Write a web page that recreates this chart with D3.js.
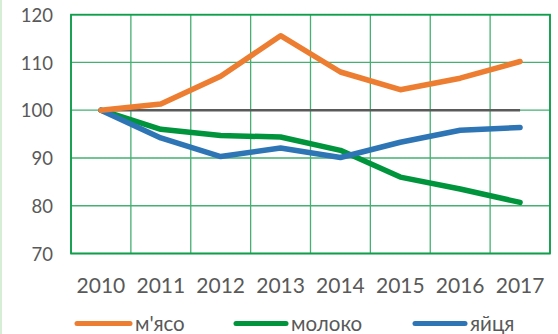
<!DOCTYPE html>
<html>
<head>
<meta charset="utf-8">
<script src="https://cdn.jsdelivr.net/npm/d3@7"></script>
<style>
  html, body { margin: 0; padding: 0; background: #fff; }
  svg { display: block; }
</style>
</head>
<body>
<svg id="chart" width="558" height="334"></svg>
<script>
// Індекси виробництва (2010 = 100)
const years = ["2010", "2011", "2012", "2013", "2014", "2015", "2016", "2017"];
const meat  = [100, 101.3, 107.1, 115.6, 108.0, 104.3, 106.7, 110.2];
const milk  = [100, 96.0, 94.7, 94.4, 91.6, 86.0, 83.5, 80.7];
const eggs  = [100, 94.2, 90.3, 92.1, 90.1, 93.3, 95.8, 96.4];
const base  = [100, 100, 100, 100, 100, 100, 100, 100];
const yTicks = [70, 80, 90, 100, 110, 120];
const seriesNames = ["м'ясо", "молоко", "яйця"];

const colors = { meat: "#ed7d31", milk: "#00953d", eggs: "#2e75b6", base: "#5a5a5a" };
const font = "Lato, 'Open Sans', sans-serif";
const textColor = "#595959";

const svg = d3.select("#chart");
const W = 558, H = 334;
const plot = { left: 71, right: 550, top: 14.7, bottom: 253.5 };

// pale left edge of the frame
svg.append("rect").attr("x", 0).attr("y", 0).attr("width", 2).attr("height", H).attr("fill", "#d6edd6");

const x = d3.scaleBand().domain(years).range([plot.left, plot.right]).padding(0);
const y = d3.scaleLinear().domain([70, 120]).range([plot.bottom, plot.top]);

// grid
const grid = svg.append("g");
grid.selectAll("line.h").data(yTicks).join("line")
  .attr("x1", plot.left).attr("x2", plot.right)
  .attr("y1", d => y(d)).attr("y2", d => y(d))
  .attr("stroke", "#45b072").attr("stroke-width", 1.3);
const bounds = years.map(d => x(d)).concat([x(years[years.length - 1]) + x.bandwidth()]);
grid.selectAll("line.v").data(bounds).join("line")
  .attr("x1", d => d).attr("x2", d => d)
  .attr("y1", plot.top).attr("y2", plot.bottom)
  .attr("stroke", "#45b072").attr("stroke-width", 1.3);
grid.append("rect")
  .attr("x", plot.left).attr("y", plot.top)
  .attr("width", plot.right - plot.left).attr("height", plot.bottom - plot.top)
  .attr("fill", "none").attr("stroke", "#0f9e4c").attr("stroke-width", 1.8);

// y axis labels
const yAxis = d3.axisLeft(y).tickValues(yTicks).tickSize(0).tickPadding(0);
const gy = svg.append("g").attr("transform", `translate(53,0)`).call(yAxis);
gy.select(".domain").remove();
gy.selectAll("text").attr("font-family", font).attr("font-size", 18.5)
  .attr("dy", "0.36em").attr("fill", textColor);

// x axis labels
const xAxis = d3.axisBottom(x).tickSize(0).tickPadding(0);
const gx = svg.append("g").attr("transform", `translate(0,293)`).call(xAxis);
gx.select(".domain").remove();
gx.selectAll("text").attr("font-family", font).attr("font-size", 21)
  .attr("y", 0).attr("dy", 0).attr("fill", textColor);

const cx = d => x(d) + x.bandwidth() / 2;
const line = d3.line().x((v, i) => cx(years[i])).y(v => y(v));

svg.append("path").datum(base).attr("d", line)
  .attr("fill", "none").attr("stroke", colors.base).attr("stroke-width", 2.5);

[[milk, colors.milk], [eggs, colors.eggs], [meat, colors.meat]].forEach(([data, c]) => {
  svg.append("path").datum(data).attr("d", line)
    .attr("fill", "none").attr("stroke", c).attr("stroke-width", 5.5)
    .attr("stroke-linecap", "round").attr("stroke-linejoin", "round");
});

// legend
const legend = [
  { name: seriesNames[0], color: colors.meat, x0: 77, tx: 135 },
  { name: seriesNames[1], color: colors.milk, x0: 236, tx: 291 },
  { name: seriesNames[2], color: colors.eggs, x0: 415, tx: 470 }
];
const lg = svg.append("g");
legend.forEach(l => {
  lg.append("line").attr("x1", l.x0).attr("x2", l.tx - 5).attr("y1", 323.5).attr("y2", 323.5)
    .attr("stroke", l.color).attr("stroke-width", 5).attr("stroke-linecap", "round");
  lg.append("text").attr("x", l.tx).attr("y", 330.5)
    .attr("font-family", font).attr("font-size", 20.5).attr("fill", textColor).text(l.name);
});
</script>
</body>
</html>
